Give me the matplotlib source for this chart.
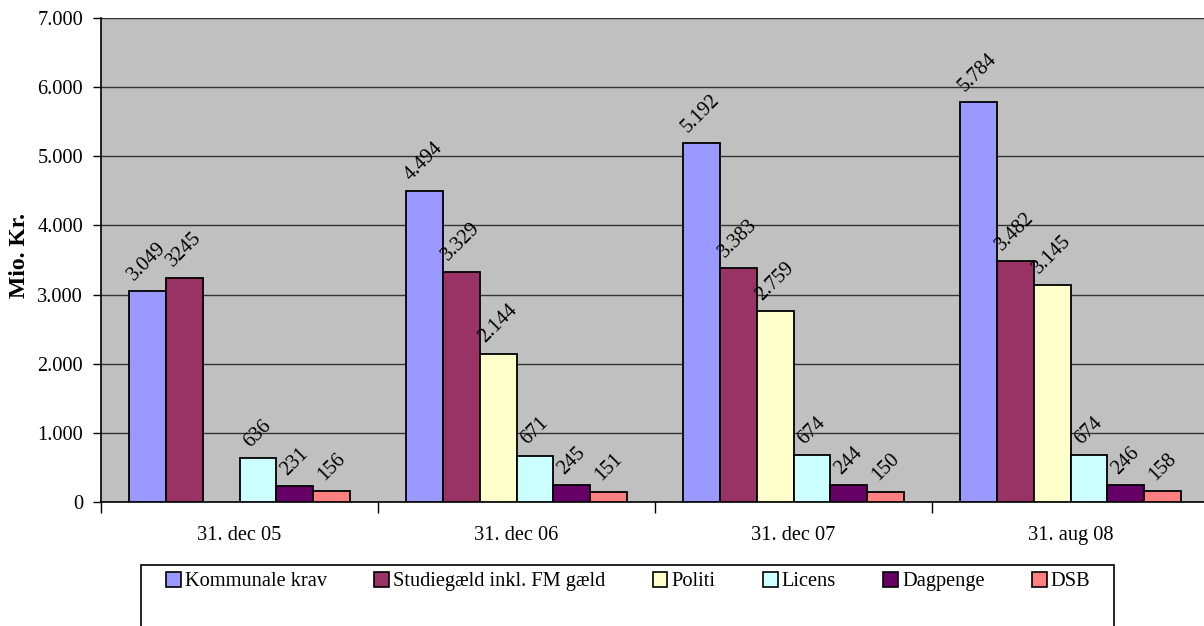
import matplotlib
matplotlib.use("Agg")
import matplotlib.pyplot as plt
from matplotlib.patches import Patch, Rectangle
import numpy as np

plt.rcParams['font.family'] = ['Liberation Serif', 'DejaVu Serif']

categories = ["31. dec 05", "31. dec 06", "31. dec 07", "31. aug 08"]
series_names = ["Kommunale krav", "Studiegæld inkl. FM gæld", "Politi", "Licens", "Dagpenge", "DSB"]
kommunale = [3049, 4494, 5192, 5784]
studie = [3245, 3329, 3383, 3482]
politi = [0, 2144, 2759, 3145]
licens = [636, 671, 674, 674]
dagpenge = [231, 245, 244, 246]
dsb = [156, 151, 150, 158]
kommunale_lbl = ["3.049", "4.494", "5.192", "5.784"]
studie_lbl = ["3245", "3.329", "3.383", "3.482"]
politi_lbl = ["", "2.144", "2.759", "3.145"]
licens_lbl = ["636", "671", "674", "674"]
dagpenge_lbl = ["231", "245", "244", "246"]
dsb_lbl = ["156", "151", "150", "158"]
yticks = [0, 1000, 2000, 3000, 4000, 5000, 6000, 7000]
ytick_labels = ["0", "1.000", "2.000", "3.000", "4.000", "5.000", "6.000", "7.000"]
colors = ["#9999FF", "#993366", "#FFFFCC", "#CCFFFF", "#660066", "#FF8080"]

values = [kommunale, studie, politi, licens, dagpenge, dsb]
labels = [kommunale_lbl, studie_lbl, politi_lbl, licens_lbl, dagpenge_lbl, dsb_lbl]

W, H = 1204, 626
fig = plt.figure(figsize=(W / 100, H / 100), dpi=100)
ax = fig.add_axes([101 / W, 124 / H, 1108 / W, 484 / H])
ax.set_facecolor("#C0C0C0")

x = np.arange(len(categories))
bw = 0.8 / 6
fs = 14.7
for i, (vals, lbls, c) in enumerate(zip(values, labels, colors)):
    pos = x - 0.4 + bw * (i + 0.5)
    for p, v, l in zip(pos, vals, lbls):
        if v > 0:
            ax.bar(p, v, width=bw, color=c, edgecolor="black", linewidth=1.3, zorder=3)
        if l:
            ax.annotate(l, (p, v), xytext=(0, 5), textcoords="offset points",
                        rotation=45, ha="center", va="bottom", fontsize=fs, zorder=4)

ax.set_xlim(-0.5, len(categories) - 0.5)
ax.set_ylim(0, 7000)
ax.set_yticks(yticks)
ax.set_yticklabels(ytick_labels, fontsize=fs)
ax.yaxis.grid(True, color="#333333", linewidth=1.0, zorder=1)
ax.set_axisbelow(True)
ax.tick_params(axis="y", direction="out", length=6, width=1, pad=7)

ax.set_xticks(x)
ax.set_xticklabels(categories, fontsize=fs)
ax.set_xticks(np.arange(-0.5, len(categories), 1.0), minor=True)
ax.tick_params(axis="x", which="major", length=0, pad=17)
ax.tick_params(axis="x", which="minor", direction="out", length=8, width=1)

for s in ["top", "right"]:
    ax.spines[s].set_visible(False)
ax.spines["left"].set_linewidth(1.2)
ax.spines["bottom"].set_linewidth(1.2)

ax.set_ylabel("Mio. Kr.", fontsize=17, fontweight="bold")
ax.yaxis.set_label_coords(-71 / 1108, 0.51)

# legend box
box = Rectangle((141 / W, -0.1), (1114 - 141) / W, (626 - 565) / H + 0.1, transform=fig.transFigure,
                facecolor="white", edgecolor="black", linewidth=1.2)
fig.add_artist(box)
handles = [Patch(facecolor=c, edgecolor="black", linewidth=1.2) for c in colors]
fig.legend(handles, series_names, loc="upper left", bbox_to_anchor=(166 / W, 1 - 572 / H),
           ncol=6, frameon=False, fontsize=fs, handlelength=0.72, handleheight=0.72,
           handletextpad=0.2, columnspacing=2.32, borderpad=0, borderaxespad=0)

fig.savefig("out.png", dpi=100)
